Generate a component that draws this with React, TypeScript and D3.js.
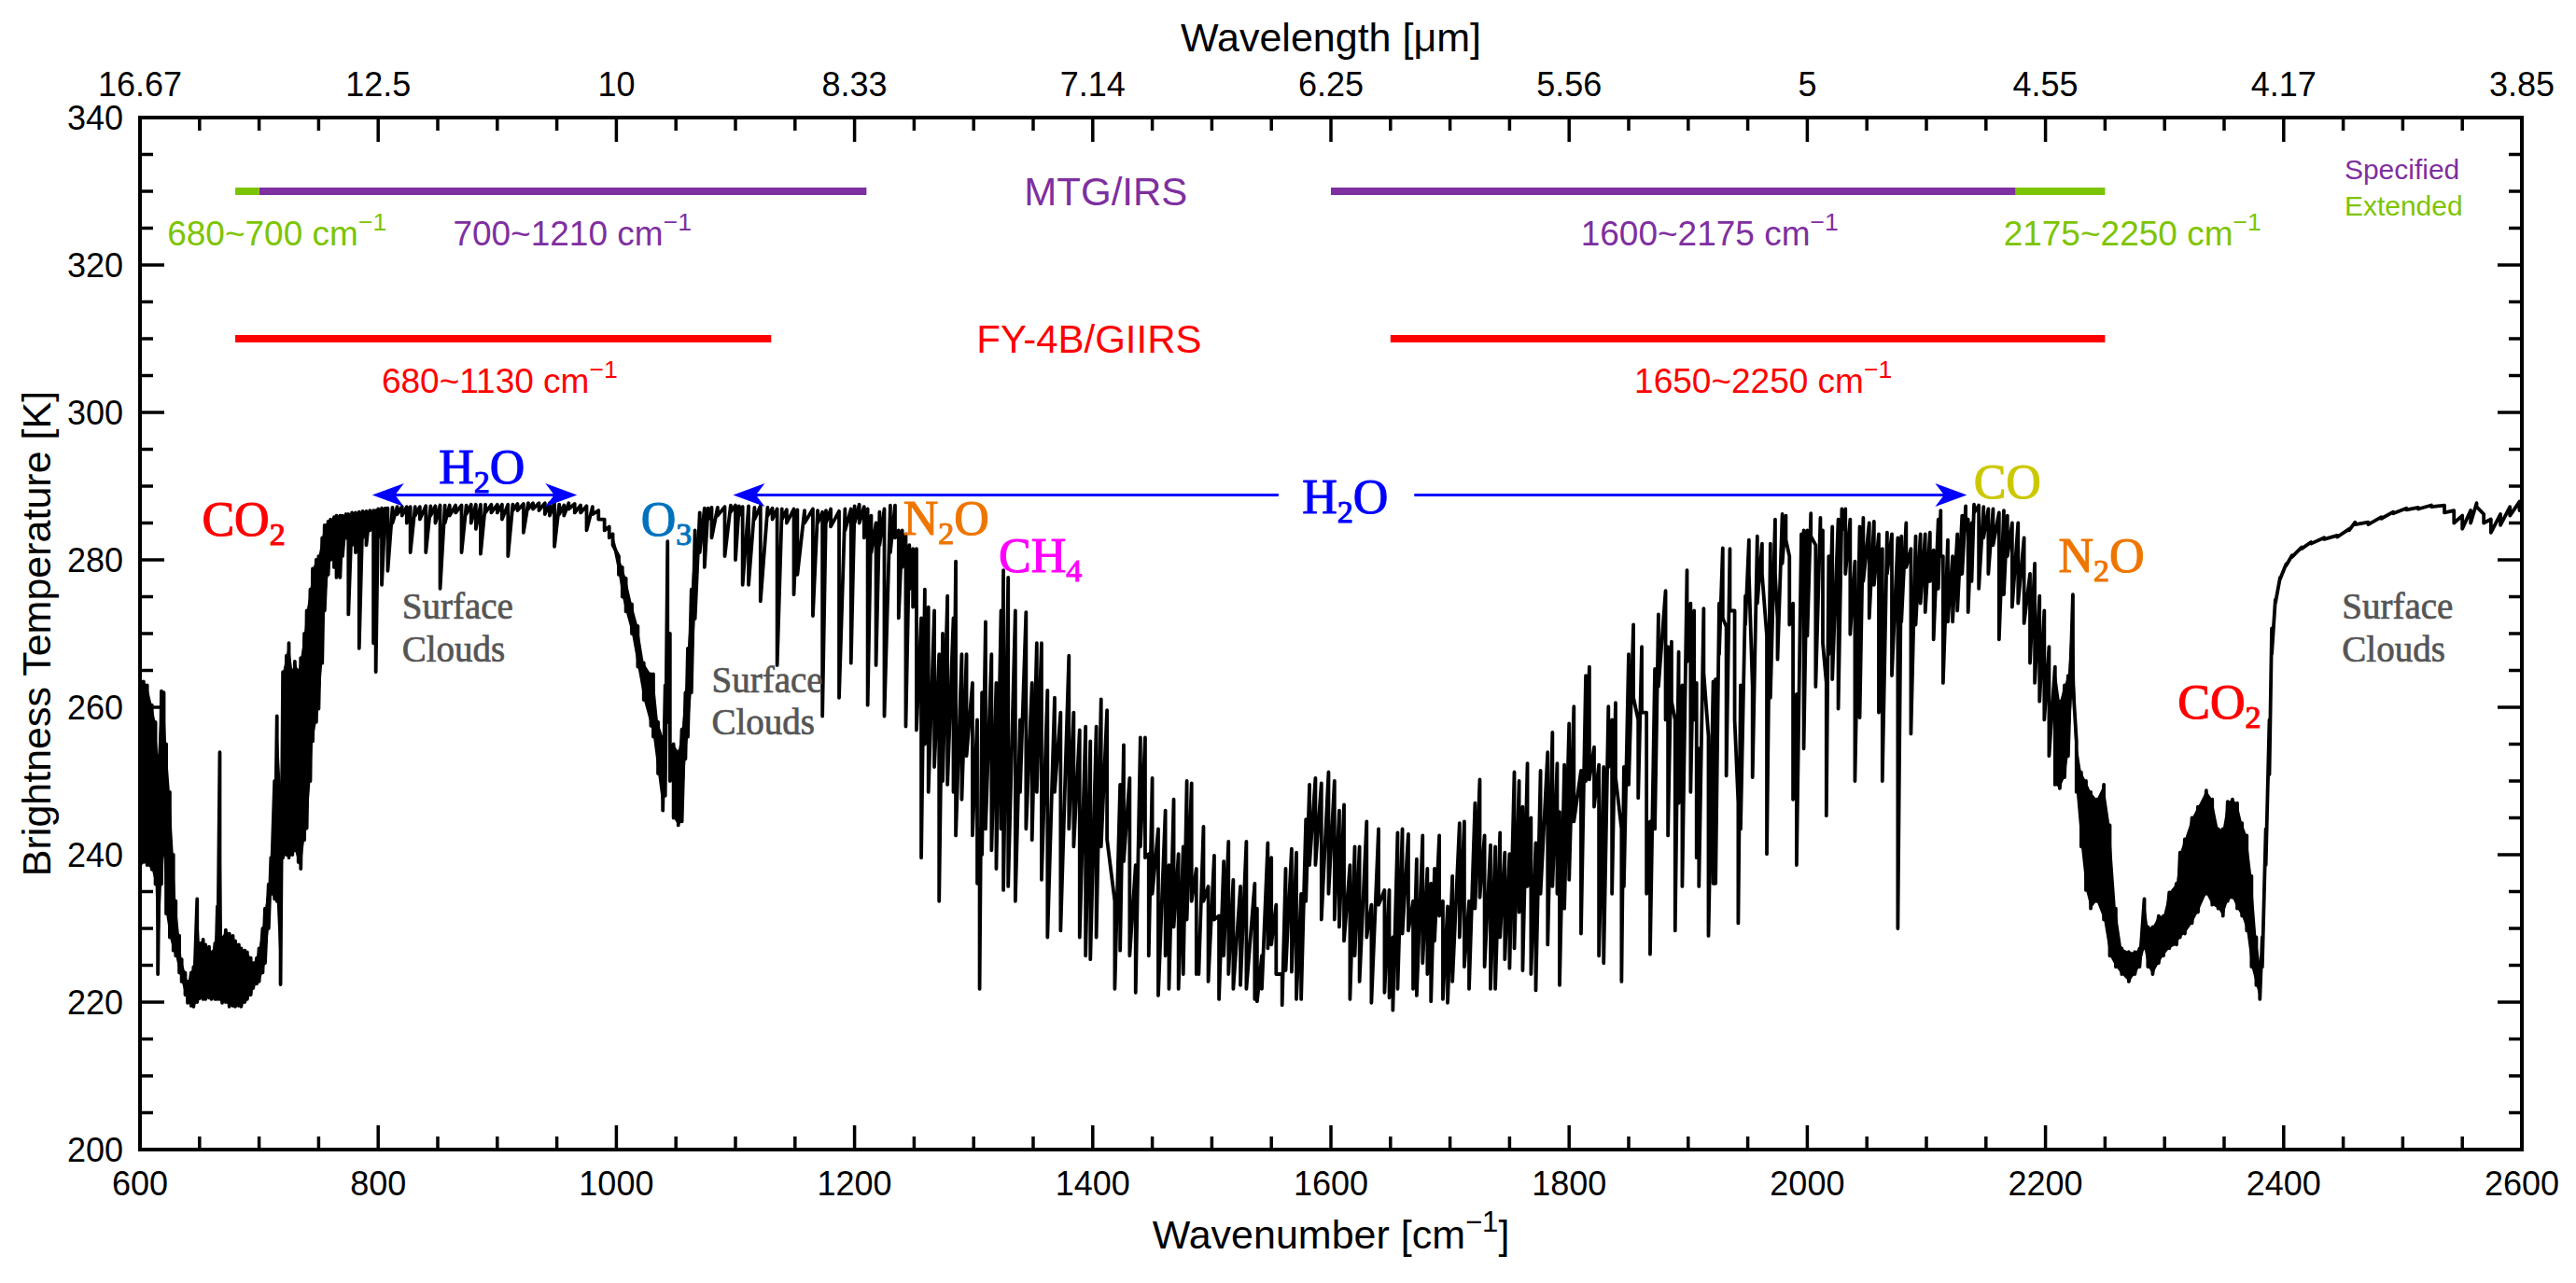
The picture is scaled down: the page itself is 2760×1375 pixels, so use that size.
import React from 'react';
import * as d3 from 'd3';

// ---------------- data ----------------
const xTickValues = [600, 800, 1000, 1200, 1400, 1600, 1800, 2000, 2200, 2400, 2600];
const wavelengthLabels = ['16.67', '12.5', '10', '8.33', '7.14', '6.25', '5.56', '5', '4.55', '4.17', '3.85'];
const yTickValues = [200, 220, 240, 260, 280, 300, 320, 340];

// brightness temperature spectrum: [wavenumber, upper T, lower T]
const spectrum: [number, number, number][] = [
  [600, 264, 238], [603, 263.5, 239], [606, 263, 238.6], [610, 260.3, 238], [613, 258, 236], [615, 253.4, 223.8],
  [618, 262.2, 236], [620, 262, 240], [622, 255, 232], [625, 248.5, 228.8], [628, 240, 227], [630, 233.7, 226.3],
  [633, 229, 224], [635, 225.8, 222.8], [638, 224, 221], [640, 222.8, 219.9], [643, 224, 219.5], [645, 224.8, 219.4],
  [648, 234, 220], [650, 228, 220.5], [653, 228.5, 220.4], [655, 227.8, 220.4], [658, 227.5, 220.6], [660, 226.8, 220.4],
  [663, 228, 220.4], [665, 233, 220.4], [667, 253.9, 220.4], [669, 228.8, 219.9], [672, 229.8, 220], [675, 229.3, 219.4],
  [678, 229, 219.5], [680, 228.3, 219.4], [683, 227.8, 219.5], [685, 227.3, 219.4], [688, 227, 220], [690, 226.8, 220.4],
  [693, 226, 221], [695, 225.3, 221.9], [698, 226, 222.5], [700, 227.3, 222.8], [703, 230, 224], [705, 232.7, 225.3],
  [708, 236, 230], [710, 239.6, 234.7], [713, 250, 234], [715, 258.8, 233.7], [718, 249.5, 222.4], [720, 264.8, 239.6],
  [723, 267, 240], [725, 268.7, 239.6], [728, 265, 240], [730, 266.2, 240.6], [733, 265, 239], [735, 266.7, 238.1],
  [738, 270, 242], [740, 273.1, 243.6], [743, 276, 250], [745, 278.8, 255.4], [748, 280, 258], [750, 280.5, 259.8],
  [753, 283, 266], [755, 284.7, 273.1], [758, 285.2, 278], [760, 285.5, 280], [763, 285.8, 279], [765, 286, 277.6],
  [768, 286, 277.6], [770, 286, 280.5], [773, 286.2, 283], [775, 286.2, 272.6], [778, 286.4, 282], [781, 286.4, 281],
  [784, 286.5, 268], [787, 286.6, 283], [790, 286.6, 282], [793, 286.7, 284], [796, 286.7, 268.7], [798, 286.7, 264.8],
  [800, 286.9, 283], [803, 287, 276.6], [806, 287, 284], [808, 287, 278.5], [812, 287.1, 285], [816, 287.2, 286.2],
  [820, 287.2, 286], [824, 287.2, 285], [827, 287.2, 281], [831, 287.2, 286], [835, 287.2, 285.5], [840, 287.3, 281],
  [844, 287.3, 286], [848, 287.3, 285], [852, 287.4, 276.1], [856, 287.4, 285], [860, 287.4, 286], [865, 287.4, 286.4],
  [870, 287.4, 281], [874, 287.4, 286.2], [878, 287.5, 285], [882, 287.5, 284.2], [886, 287.5, 280.8], [890, 287.5, 286.4],
  [895, 287.5, 286.4], [900, 287.5, 286.4], [904, 287.5, 285.5], [909, 287.5, 280.5], [913, 287.5, 286.7], [917, 287.6, 286.7],
  [922, 287.6, 283.7], [926, 287.7, 286.9], [930, 287.7, 286.9], [935, 287.7, 286.7], [940, 287.7, 286.2], [944, 287.7, 286],
  [948, 287.7, 281.8], [952, 287.5, 286.2], [956, 287.4, 286], [960, 287.7, 286.9], [965, 287.6, 286.4], [970, 287.4, 286.4],
  [975, 287.3, 284], [980, 287.2, 286.2], [985, 286.7, 285.5], [990, 285.5, 284],
  [994, 284.5, 283], [997, 283.5, 282], [1002, 280.5, 278], [1005, 279, 275], [1008, 277.5, 273], [1013, 274, 270],
  [1018, 271, 265.5], [1023, 266, 261], [1029, 264.5, 257.5], [1031, 264.5, 256], [1035, 258, 251], [1039, 256, 246],
  [1041, 263, 248], [1043, 282.5, 258], [1045, 270, 250], [1048, 255, 245], [1052, 254, 244], [1055, 257, 244.5],
  [1058, 262, 253], [1060, 268, 256], [1063, 276, 262], [1066, 284, 272], [1070, 286.4, 281], [1074, 287, 279],
  [1077, 287, 285.5], [1080, 287.1, 283], [1085, 287.1, 286], [1091, 287.2, 280.5], [1096, 287.4, 286.5], [1100, 287.4, 280],
  [1103, 287.3, 286], [1106, 287.2, 276.6], [1111, 287.3, 276.6], [1116, 287.1, 285.5], [1121, 287.3, 274.4], [1127, 287.1, 286],
  [1131, 287, 285.5], [1135, 286.9, 265.7], [1139, 286.9, 285.5], [1143, 286.8, 285], [1149, 286.9, 275.3], [1152, 286.8, 278],
  [1158, 286.7, 285], [1165, 286.9, 272.4], [1169, 286.7, 285], [1173, 286.5, 258.8], [1176, 286.7, 285], [1180, 286.9, 284.5],
  [1187, 286.6, 261.3], [1192, 286.9, 284], [1197, 286.9, 266], [1200, 287.3, 285], [1204, 287.5, 285], [1208, 287.2, 283],
  [1211, 286.9, 260.3], [1214, 286, 281], [1218, 285, 265.7], [1221, 286.5, 282], [1225, 286.9, 258.8], [1230, 287.4, 281],
  [1234, 287.4, 283], [1237, 284, 272.1], [1240, 284, 279], [1243, 283.5, 257.4], [1246, 282, 276], [1249, 281.5, 273.6],
  [1252, 281.5, 256.9], [1256, 272.1, 239.6], [1259, 276, 255], [1262, 273.6, 248.5], [1267, 273.1, 251.9], [1271, 267.2, 233.7],
  [1274, 270, 250], [1278, 275.1, 249.5], [1283, 272.1, 248.5], [1285, 279.8, 242.6], [1290, 267.2, 247.5], [1294, 267.2, 253.4],
  [1299, 263.3, 242.6], [1303, 258.3, 236.1], [1305, 243.5, 221.8], [1307, 262, 240], [1310, 271.6, 243.5], [1315, 267.2, 240.6],
  [1319, 263.3, 238.1], [1323, 273.1, 243.5], [1325, 278.6, 235.2], [1329, 277.6, 235.7], [1335, 273.1, 233.7], [1339, 258.3, 248.5],
  [1344, 272.9, 243.5], [1349, 263.3, 242], [1353, 268.7, 248.5], [1357, 268.7, 236.6], [1362, 262.3, 228.8], [1368, 261.3, 248.5],
  [1373, 259.3, 229.7], [1380, 267, 243.5], [1384, 259.3, 241.1], [1389, 256.9, 228.8], [1394, 257.4, 226.3], [1398, 255.4, 225.8],
  [1403, 257.4, 228.8],
  [1407, 261.1, 241.1], [1412, 259.6, 242.1], [1418.5, 233.7, 221.8], [1423, 249.5, 227], [1426, 254.9, 239.1], [1431, 250.4, 226.3],
  [1436, 238.6, 221.3], [1440, 255.9, 241.1], [1444, 255.9, 239.6], [1447, 240.1, 226.3], [1450, 250.4, 234.7], [1455, 243.5, 220.9],
  [1461, 246, 226.3], [1464, 238.6, 221.8], [1468, 247.5, 230.2], [1472, 240.1, 221.8], [1476, 241.1, 223.8], [1479, 250, 231.2],
  [1483, 249.7, 233.7], [1487, 238.1, 223.8], [1489, 228.8, 223.8], [1493, 243.8, 233.7], [1497, 235.7, 222.8], [1502, 239.9, 231.2],
  [1506, 231.7, 220.4], [1510, 239.1, 226.3], [1514, 241.8, 223.8], [1518, 236.6, 221.8], [1524, 235.7, 222.3], [1529, 241.8, 221.8],
  [1536, 236.1, 220.4], [1538, 232.7, 220.1], [1542, 226.3, 221.8], [1547, 241.6, 227.3], [1550, 239.6, 227.8], [1554, 233.2, 223.8],
  [1559, 223.8, 219.6], [1562, 238.1, 224.3], [1567, 240.8, 224.1], [1571, 240.3, 220.4], [1575, 234.7, 220.4], [1579, 244.8, 233.7],
  [1582, 249.5, 238.6], [1587, 250.4, 238.6], [1592, 249.7, 231.2], [1598, 251.2, 234.7], [1603, 250, 231.2], [1607, 246, 230.2],
  [1611, 246.8, 228.3], [1616, 238.6, 220.4], [1620, 241.1, 226.3], [1624, 241.1, 222.8], [1630, 244.5, 228.8], [1634, 233.2, 219.9],
  [1640, 243.5, 233.2], [1645, 235.2, 221.3], [1649, 235.2, 220.6], [1652, 228.8, 218.9], [1656, 243, 221.8], [1660, 243.5, 229.3],
  [1665, 242.8, 229.7], [1669, 233.7, 221.8], [1672, 239.4, 220.9], [1677, 242.6, 225.3], [1681, 238.1, 223.8], [1684, 236.1, 220.1],
  [1687, 238.1, 228.3], [1691, 242.6, 231.7], [1694, 233.7, 220.4], [1698, 233, 219.9], [1702, 237.1, 222.8], [1708, 244.3, 228.8],
  [1712, 244.5, 224.8], [1716, 233.7, 221.8], [1721, 247, 232.7], [1725, 250.2, 234.2], [1729, 242.6, 224.8], [1734, 241.3, 221.8],
  [1738, 241.1, 221.8], [1742, 243, 228.8], [1746, 240.3, 225.8], [1750, 240.1, 224.6], [1754, 251.2, 227.3], [1758, 250, 232.2],
  [1761, 246.5, 224.3], [1765, 252.4, 235.7], [1768, 245, 223.8], [1772, 241.6, 221.6], [1776, 251.4, 234.7], [1782, 253.9, 227.8],
  [1786, 256.6, 235.7], [1790, 252.4, 234.7], [1792, 245.8, 222.3], [1796, 252.2, 232.7], [1800, 257.8, 236.6], [1804, 260.1, 244.5],
  [1810, 251.4, 229.3], [1814, 264.3, 250], [1817, 265.5, 250.2], [1821, 254.6, 246.5], [1825, 252.2, 226.3], [1829, 251.9, 225.3],
  [1833, 260.1, 251.9], [1836, 258.3, 234.7], [1839, 260.6, 250.5], [1844, 243.5, 222.8], [1846, 251.9, 235.7], [1850, 267.2, 249.5],
  [1854, 271.2, 261.3], [1858, 258.3, 247.7], [1861, 268.2, 259.3], [1865, 259.3, 234.7], [1868, 244.5, 226.5], [1872, 265.2, 243.5],
  [1875, 272.6, 262.8], [1881, 275.8, 258.3], [1883, 268.2, 242.6], [1886, 268.9, 260.8], [1889, 258.3, 229.7], [1892, 267.5, 247],
  [1895, 263, 235.7], [1899, 278.6, 266.2], [1902, 274.1, 248.5], [1905, 273.1, 258.3], [1907, 263.3, 239.6], [1909, 254.4, 235.7],
  [1913, 273.4, 264.7], [1917, 256.1, 229], [1921, 263.5, 236.1], [1923, 263.8, 236.1], [1926, 274.1, 267.2], [1929, 281.6, 272.1],
  [1932, 270.9, 250.7], [1935, 281.5, 273.1], [1939, 273.1, 258.3], [1942, 247, 230.7], [1944, 263, 243.5], [1948, 275.1, 271.2],
  [1951, 282.7, 278.1], [1954, 262.8, 250.5], [1958, 283.2, 274.1], [1962, 282.2, 278.1], [1966, 269.7, 240.1], [1969, 282.2, 261.3],
  [1973, 285.5, 278.1], [1975, 272.1, 266.5], [1979, 286.2, 279.5], [1982, 286, 282.7], [1985, 280.5, 271.2], [1988, 274.1, 247.5],
  [1991, 261.8, 238.6], [1995, 283.5, 274.1], [1997, 284, 254.4], [2000, 284, 269.7], [2003, 286.3, 283.2], [2007, 282, 262.8],
  [2011, 285.7, 281], [2013, 284, 268.7], [2016, 263.3, 245.3], [2018, 280.5, 267.2], [2021, 284.5, 263.8], [2026, 285.5, 259.8],
  [2029, 286.9, 284], [2032, 286.9, 278.1], [2036, 285.5, 269.9], [2040, 279.8, 250], [2044, 284.5, 258.6], [2047, 285.7, 277.1],
  [2052, 285, 272.1], [2056, 285.2, 276.6], [2060, 283.5, 259.3], [2063, 281.5, 250], [2067, 283.7, 278.1], [2071, 283.5, 264.3],
  [2076, 283, 230], [2079, 283.2, 271.6], [2083, 285, 279], [2087, 281.5, 256.4], [2091, 283.2, 271.2], [2095, 283.5, 274.1],
  [2099, 283.5, 272.9], [2103, 283.7, 277.1], [2106, 281.3, 269.2], [2110, 285.5, 276.1], [2112, 286.7, 280.5], [2114, 280.5, 263.3],
  [2118, 282.7, 271.6], [2122, 280.5, 271.6], [2126, 283.5, 273.1], [2130, 286, 278.1], [2133, 287.3, 284], [2135, 285.5, 272.9],
  [2138, 285, 277.1], [2140, 287.5, 286.4], [2144, 287.4, 276.1], [2148, 287.2, 283], [2152, 286.9, 278.1], [2156, 286.9, 282],
  [2161, 286.4, 269.2], [2165, 286.7, 275.3], [2168, 286, 280.5], [2172, 285, 273.6], [2177, 285, 274.1], [2182, 283, 271.4],
  [2187, 278.1, 266], [2191, 279.5, 263.3], [2195, 275.1, 260.8], [2199, 273.1, 258.3], [2203, 268.2, 253.4],
  [2208, 265.5, 249.5], [2212, 260.8, 249], [2216, 263, 250.5], [2219, 264.3, 253.4], [2223, 275.3, 263.3], [2226, 255.4, 248.5],
  [2230, 251.2, 241.1], [2234, 250, 235.2], [2238, 248.5, 232.7], [2243, 247.5, 233.7], [2249, 249.5, 231.2], [2254, 244, 226.3],
  [2259, 232.7, 224.8], [2264, 227.3, 223.8], [2270, 226.8, 222.8], [2275, 226.8, 223.8], [2279, 227.3, 224.8], [2283, 234, 227.3],
  [2286, 230.2, 224.8], [2290, 230.2, 223.8], [2295, 231.7, 225.3], [2299, 231.7, 226.3], [2304, 234.9, 227.3], [2310, 236.1, 227.8],
  [2313, 240.3, 228.8], [2317, 242.1, 229.3], [2323, 245, 230.7], [2328, 246.5, 232.2], [2335, 248.7, 234.7], [2340, 247.5, 233.2],
  [2345, 243.5, 232.7], [2349, 243.5, 231.7], [2353, 247.2, 233.7], [2357, 247.5, 234.2], [2361, 247, 232.7], [2365, 244.3, 231.7],
  [2369, 242.6, 229.7], [2373, 237.1, 224.8], [2377, 228.8, 222.3], [2380, 225.3, 220.4], [2382, 228.8, 224.8], [2385, 243.5, 238.6],
  [2388, 258.3, 250.9], [2390, 270.7, 267.2], [2393, 274.6, 274.1], [2397, 277.6, 277.4], [2402, 279.4, 279.2], [2407, 280.6, 280.4],
  [2415, 281.7, 281.5], [2423, 282.4, 282.2], [2434, 283, 282.8], [2445, 283.3, 283.1], [2455, 284.2, 284], [2460, 285.1, 284.8],
  [2471, 285.1, 284.8], [2482, 285.8, 285.6], [2492, 286.5, 286.3], [2503, 287, 286.8], [2513, 287.1, 286.9], [2524, 287.4, 287.2],
  [2535, 287.4, 286.4], [2543, 286.7, 285], [2550, 286, 284.2], [2557, 286.7, 285], [2562, 287.7, 287.2], [2568, 286.2, 285],
  [2574, 285.5, 283.7], [2582, 286.2, 284.7], [2590, 287.2, 286], [2598, 287.9, 286.7], [2600, 287.6, 286.5],
];

// wavenumber ranges where the spectrum is a dense band
const denseRanges: [number, number][] = [[600, 760], [996, 1040], [1046, 1068], [2205, 2392]];

// instrument spectral coverage
const mtgSpecified: [number, number][] = [[700, 1210], [1600, 2175]];
const mtgExtended: [number, number][] = [[680, 700], [2175, 2250]];
const fyRanges: [number, number][] = [[680, 1130], [1650, 2250]];
const mtgLevel = 330;
const fyLevel = 310;

const PURPLE = '#7E2FA0';
const GREEN = '#7DC400';
const RED = '#FF0000';

const rangeLabels = [
  { text: '680~700', wn: 715, T: 322.7, color: GREEN },
  { text: '700~1210', wn: 963, T: 322.7, color: PURPLE },
  { text: '1600~2175', wn: 1918, T: 322.7, color: PURPLE },
  { text: '2175~2250', wn: 2273, T: 322.7, color: GREEN },
  { text: '680~1130', wn: 902, T: 302.7, color: RED },
  { text: '1650~2250', wn: 1963, T: 302.7, color: RED },
];

const instrumentLabels = [
  { text: 'MTG/IRS', wn: 1411, T: 328.1, color: PURPLE },
  { text: 'FY-4B/GIIRS', wn: 1397, T: 308.1, color: RED },
];

const legendLabels = [
  { text: 'Specified', wn: 2451, T: 331.6, color: PURPLE },
  { text: 'Extended', wn: 2451, T: 326.7, color: GREEN },
];

const molecules = [
  { base: 'CO', sub: '2', tail: '', wn: 687, T: 283.3, color: '#FF0000' },
  { base: 'H', sub: '2', tail: 'O', wn: 887, T: 290.4, color: '#0000FF' },
  { base: 'O', sub: '3', tail: '', wn: 1042, T: 283.3, color: '#0072BD' },
  { base: 'N', sub: '2', tail: 'O', wn: 1277, T: 283.4, color: '#EE7600' },
  { base: 'CH', sub: '4', tail: '', wn: 1356, T: 278.4, color: '#FF00FF' },
  { base: 'H', sub: '2', tail: 'O', wn: 1612, T: 286.3, color: '#0000FF' },
  { base: 'CO', sub: '', tail: '', wn: 2168, T: 288.4, color: '#CCC800' },
  { base: 'N', sub: '2', tail: 'O', wn: 2247, T: 278.4, color: '#EE7600' },
  { base: 'CO', sub: '2', tail: '', wn: 2346, T: 258.5, color: '#FF0000' },
];

const cloudLabels = [
  { wn: 820, T1: 272.0, T2: 266.2 },
  { wn: 1080, T1: 262.0, T2: 256.3 },
  { wn: 2449, T1: 272.0, T2: 266.2 },
];

const arrows: { from: number; to: number; T: number; gap: [number, number] | null }[] = [
  { from: 795, to: 967, T: 288.8, gap: null },
  { from: 1098, to: 2134, T: 288.8, gap: [1556, 1670] },
];

// ---------------- layout ----------------
const W = 2760;
const H = 1375;
const M = { left: 150, right: 2702, top: 126, bottom: 1232 };
const SANS = 'Liberation Sans, Arial, Helvetica, sans-serif';
const SERIF = 'Liberation Serif, Times New Roman, serif';

function arrowHead(xTip: number, yc: number, dir: number) {
  const L = 34;
  const Wd = 12.5;
  return `M${xTip},${yc} L${xTip + dir * L},${yc - Wd} L${xTip + dir * L * 0.72},${yc} L${xTip + dir * L},${yc + Wd} Z`;
}

export default function App() {
  const x = d3.scaleLinear().domain([600, 2600]).range([M.left, M.right]);
  const y = d3.scaleLinear().domain([200, 340]).range([M.bottom, M.top]);

  const pts: [number, number][] = spectrum.flatMap(([w, h, l]) => [[w, h], [w, l]] as [number, number][]);
  const line = d3.line<[number, number]>().x(d => x(d[0])).y(d => y(d[1]));
  const area = d3
    .area<[number, number, number]>()
    .x(d => x(d[0]))
    .y0(d => y(d[2]))
    .y1(d => y(d[1]));

  const xMinor = d3.range(600, 2601, 50);
  const yMinor = d3.range(200, 341, 5);
  const tickW = 3.5;
  const majorLen = 26;
  const minorLen = 14;

  const rangeFont = 37;
  const molFont = 52;
  const subFont = 34;
  const subDy = 10;

  return (
    <svg
      width={W}
      height={H}
      viewBox={`0 0 ${W} ${H}`}
      style={{ position: 'absolute', left: 0, top: 0, background: '#fff' }}
    >
      <rect x={0} y={0} width={W} height={H} fill="#fff" />
      <defs>
        <clipPath id="plotClip">
          <rect x={M.left} y={M.top} width={M.right - M.left} height={M.bottom - M.top} />
        </clipPath>
      </defs>

      {/* instrument bars */}
      {mtgSpecified.map((r, i) => (
        <line key={'ms' + i} x1={x(r[0])} x2={x(r[1])} y1={y(mtgLevel)} y2={y(mtgLevel)} stroke={PURPLE} strokeWidth={8} />
      ))}
      {mtgExtended.map((r, i) => (
        <line key={'me' + i} x1={x(r[0])} x2={x(r[1])} y1={y(mtgLevel)} y2={y(mtgLevel)} stroke={GREEN} strokeWidth={8} />
      ))}
      {fyRanges.map((r, i) => (
        <line key={'fy' + i} x1={x(r[0])} x2={x(r[1])} y1={y(fyLevel)} y2={y(fyLevel)} stroke={RED} strokeWidth={8} />
      ))}

      {rangeLabels.map((l, i) => (
        <text key={'rl' + i} x={x(l.wn)} y={y(l.T)} fill={l.color} fontFamily={SANS} fontSize={rangeFont} textAnchor="middle">
          {l.text} cm
          <tspan dy={-16} fontSize={rangeFont * 0.72}>
            {'\u22121'}
          </tspan>
        </text>
      ))}
      {instrumentLabels.map((l, i) => (
        <text key={'il' + i} x={x(l.wn)} y={y(l.T)} fill={l.color} fontFamily={SANS} fontSize={42} textAnchor="middle">
          {l.text}
        </text>
      ))}
      {legendLabels.map((l, i) => (
        <text key={'lg' + i} x={x(l.wn)} y={y(l.T)} fill={l.color} fontFamily={SANS} fontSize={30}>
          {l.text}
        </text>
      ))}

      {/* spectrum */}
      <g clipPath="url(#plotClip)">
        {denseRanges.map((r, i) => (
          <path
            key={'dense' + i}
            d={area(spectrum.filter(s => s[0] >= r[0] && s[0] <= r[1])) || ''}
            fill="#000"
            stroke="none"
          />
        ))}
        <path d={line(pts) || ''} fill="none" stroke="#000" strokeWidth={3.8} strokeLinejoin="round" />
      </g>

      {/* arrows */}
      {arrows.map((a, i) => {
        const yc = y(a.T);
        const segs: [number, number][] = a.gap ? [[a.from, a.gap[0]], [a.gap[1], a.to]] : [[a.from, a.to]];
        return (
          <g key={'ar' + i}>
            {segs.map((s, j) => (
              <line key={j} x1={x(s[0]) + (j === 0 ? 20 : 0)} x2={x(s[1]) - (j === segs.length - 1 ? 20 : 0)} y1={yc} y2={yc} stroke="#0000FF" strokeWidth={3.2} />
            ))}
            <path d={arrowHead(x(a.from), yc, 1)} fill="#0000FF" />
            <path d={arrowHead(x(a.to), yc, -1)} fill="#0000FF" />
          </g>
        );
      })}

      {/* molecule labels */}
      {molecules.map((m, i) => (
        <text
          key={'mol' + i}
          x={x(m.wn)}
          y={y(m.T)}
          fill={m.color}
          stroke={m.color}
          strokeWidth={1.1}
          fontFamily={SERIF}
          fontSize={molFont}
          textAnchor="middle"
        >
          {m.base}
          {m.sub ? (
            <tspan dy={subDy} fontSize={subFont}>
              {m.sub}
            </tspan>
          ) : null}
          {m.tail ? (
            <tspan dy={-subDy} fontSize={molFont}>
              {m.tail}
            </tspan>
          ) : null}
        </text>
      ))}

      {cloudLabels.map((c, i) => (
        <g key={'cl' + i} fill="#555555" stroke="#555555" strokeWidth={0.7} fontFamily={SERIF} fontSize={39}>
          <text x={x(c.wn)} y={y(c.T1)}>Surface</text>
          <text x={x(c.wn)} y={y(c.T2)}>Clouds</text>
        </g>
      ))}

      {/* axes frame */}
      <rect x={M.left} y={M.top} width={M.right - M.left} height={M.bottom - M.top} fill="none" stroke="#000" strokeWidth={4} />

      {/* x ticks bottom & top */}
      {xMinor.map(v => {
        const major = xTickValues.includes(v);
        const len = major ? majorLen : minorLen;
        return (
          <g key={'xt' + v} stroke="#000" strokeWidth={tickW}>
            <line x1={x(v)} x2={x(v)} y1={M.bottom} y2={M.bottom - len} />
            <line x1={x(v)} x2={x(v)} y1={M.top} y2={M.top + len} />
          </g>
        );
      })}
      {/* y ticks left & right */}
      {yMinor.map(v => {
        const major = yTickValues.includes(v);
        const len = major ? majorLen : minorLen;
        return (
          <g key={'yt' + v} stroke="#000" strokeWidth={tickW}>
            <line x1={M.left} x2={M.left + len} y1={y(v)} y2={y(v)} />
            <line x1={M.right} x2={M.right - len} y1={y(v)} y2={y(v)} />
          </g>
        );
      })}

      {/* tick labels */}
      {xTickValues.map(v => (
        <text key={'xl' + v} x={x(v)} y={1281} fontFamily={SANS} fontSize={36} textAnchor="middle" fill="#000">
          {v}
        </text>
      ))}
      {xTickValues.map((v, i) => (
        <text key={'wl' + v} x={x(v)} y={103} fontFamily={SANS} fontSize={36} textAnchor="middle" fill="#000">
          {wavelengthLabels[i]}
        </text>
      ))}
      {yTickValues.map(v => (
        <text key={'yl' + v} x={132} y={y(v) + 13} fontFamily={SANS} fontSize={36} textAnchor="end" fill="#000">
          {v}
        </text>
      ))}

      {/* axis titles */}
      <text x={(M.left + M.right) / 2} y={1338} fontFamily={SANS} fontSize={43} textAnchor="middle" fill="#000">
        Wavenumber [cm
        <tspan dy={-18} fontSize={31}>
          {'\u22121'}
        </tspan>
        <tspan dy={18}>]</tspan>
      </text>
      <text x={(M.left + M.right) / 2} y={55} fontFamily={SANS} fontSize={43} textAnchor="middle" fill="#000">
        Wavelength [μm]
      </text>
      <text
        transform={`translate(54, ${(M.top + M.bottom) / 2}) rotate(-90)`}
        fontFamily={SANS}
        fontSize={43}
        textAnchor="middle"
        fill="#000"
      >
        Brightness Temperature [K]
      </text>
    </svg>
  );
}
